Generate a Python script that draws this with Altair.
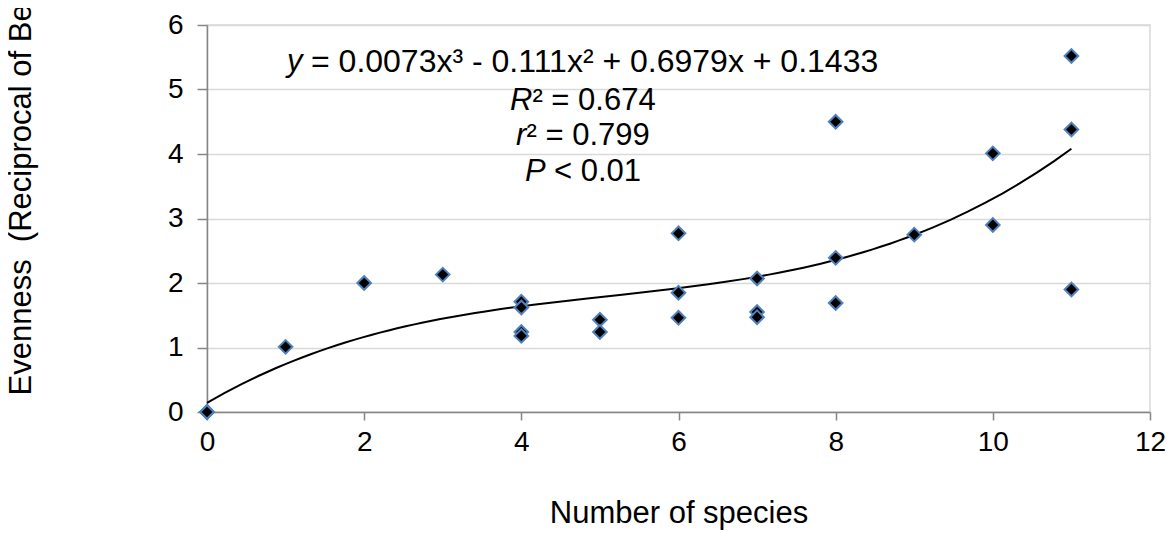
import altair as alt
import pandas as pd

# ---- data ----
# four samples sit on top of each other at (0, 0)
species = [0, 0, 0, 0, 1, 2, 3, 4, 4, 4, 4, 5, 5, 6, 6, 6, 7, 7, 7, 8, 8, 8, 9, 10, 10, 11, 11, 11]
evenness = [0.0, 0.0, 0.0, 0.0, 1.01, 2.0, 2.13, 1.71, 1.62, 1.24, 1.18, 1.43, 1.24, 2.77, 1.85, 1.46,
            2.07, 1.55, 1.47, 4.5, 2.39, 1.69, 2.75, 4.01, 2.9, 5.52, 4.38, 1.9]

x_ticks = [0, 2, 4, 6, 8, 10, 12]
y_ticks = [0, 1, 2, 3, 4, 5, 6]

italic_parts = ["y", "R", "r", "P"]
rest_parts = ["= 0.0073x\u00b3 - 0.111x\u00b2 + 0.6979x + 0.1433",
              "\u00b2 = 0.674",
              "\u00b2 = 0.799",
              "< 0.01"]

df = pd.DataFrame({"species": species, "evenness": evenness})

FONT = "Liberation Sans"
W, H = 943, 387

xscale = alt.Scale(domain=[0, 12], nice=False, zero=False)
yscale = alt.Scale(domain=[0, 6], nice=False, zero=False)

base = alt.Chart(df)

points = base.mark_point(
    shape="diamond", filled=True, fill="black", stroke="#4F81BD",
    strokeWidth=2, size=185, opacity=1
).encode(
    x=alt.X("species:Q", scale=xscale, axis=alt.Axis(
        values=x_ticks, format="d", grid=False, title="Number of species",
        titleX=W / 2, titleY=110, titleBaseline="alphabetic",
        titleAlign="center", labelPadding=8, tickSize=8,
        labelFlush=False, labelOverlap=False)),
    y=alt.Y("evenness:Q", scale=yscale, axis=alt.Axis(
        values=y_ticks, format="d", grid=True,
        title="Evenness\u00a0 (Reciprocal of Berger-Parker index)",
        titleAngle=270, titleAlign="left", titleBaseline="middle",
        titleX=-186, titleY=370, labelPadding=14, tickSize=10,
        labelFlush=False, labelOverlap=False)),
)

trend = base.transform_regression(
    "species", "evenness", method="poly", order=3, extent=[0, 11]
).mark_line(color="black", strokeWidth=2).encode(
    x=alt.X("species:Q", scale=xscale),
    y=alt.Y("evenness:Q", scale=yscale),
)

# annotation layout (pixels inside the plot area)
line_y = [36.5, 76, 111, 147]
italic_x = [80, 303, 309, 318]
rest_x = [104, 325.4, 319.5, 347]
rest_size = [32, 31, 31, 31]

ann_df = pd.DataFrame({"dummy": [0]})
texts = []
for i in range(4):
    texts.append(alt.Chart(ann_df).mark_text(
        text=italic_parts[i], font=FONT, fontSize=31, fontStyle="italic",
        align="left", baseline="middle", color="black"
    ).encode(x=alt.value(italic_x[i]), y=alt.value(line_y[i])))
    texts.append(alt.Chart(ann_df).mark_text(
        text=rest_parts[i], font=FONT, fontSize=rest_size[i],
        align="left", baseline="middle", color="black"
    ).encode(x=alt.value(rest_x[i]), y=alt.value(line_y[i])))

chart = alt.layer(trend, points, *texts).properties(
    width=W, height=H,
    autosize=alt.AutoSizeParams(type="none"),
    padding={"left": 199, "top": 17, "right": 18, "bottom": 120},
).configure_view(
    stroke="#D9D9D9", strokeWidth=1.5
).configure_axis(
    domainColor="#868686", domainWidth=1.5,
    tickColor="#868686", tickWidth=1.5,
    gridColor="#D9D9D9", gridWidth=1.5,
    labelFont=FONT, labelFontSize=28, labelColor="black",
    titleFont=FONT, titleFontSize=31, titleFontWeight="normal", titleColor="black",
)

chart.save("out.html", embed_options={"renderer": "svg", "actions": False})
